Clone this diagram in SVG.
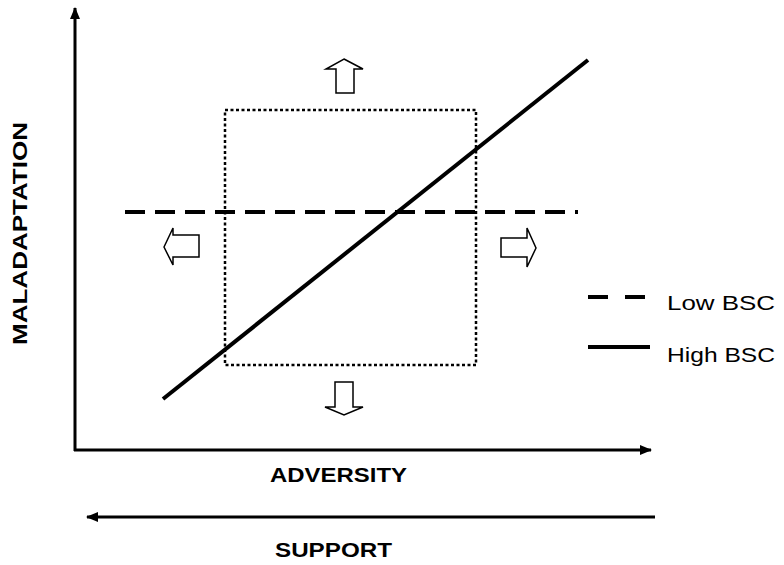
<svg xmlns="http://www.w3.org/2000/svg" width="784" height="565" viewBox="0 0 784 565">
<style>
.ax{stroke:#000;stroke-width:3;fill:none}
.blk{fill:#fff;stroke:#000;stroke-width:1.5;stroke-linejoin:miter}
.lbl{font-family:"Liberation Sans",Arial,sans-serif;font-weight:bold;font-size:21px;fill:#000}
.leg{font-family:"Liberation Sans",Arial,sans-serif;font-size:21px;fill:#000}
</style>
<defs>
<marker id="ah" viewBox="0 0 12 10" refX="11" refY="5" markerWidth="12" markerHeight="10" markerUnits="userSpaceOnUse" orient="auto">
<path d="M0,0 L12,5 L0,10 Z" fill="#000"/>
</marker>
</defs>
<g id="connectors">
<line class="ax" x1="75" y1="451" x2="75" y2="8" marker-end="url(#ah)"/>
<line class="ax" x1="74" y1="450" x2="651" y2="450" marker-end="url(#ah)"/>
<line class="ax" x1="655" y1="517" x2="87" y2="517" marker-end="url(#ah)"/>
</g>
<g id="box">
<rect x="225" y="110" width="251" height="255" fill="none" stroke="#000" stroke-width="2.5" stroke-dasharray="3,2.5"/>
</g>
<g id="low-bsc-line">
<line x1="125" y1="212" x2="578" y2="212" stroke="#000" stroke-width="4" stroke-dasharray="20,10"/>
</g>
<g id="high-bsc-line">
<line x1="163" y1="399" x2="588" y2="60" stroke="#000" stroke-width="4"/>
</g>
<g id="arrow-up">
<path class="blk" d="M344,59 L363,69 L354,69 L354,93 L336,93 L336,69 L326,69 Z"/>
</g>
<g id="arrow-down">
<path class="blk" d="M335,382 L353,382 L353,407 L363,407 L344,415 L325,407 L335,407 Z"/>
</g>
<g id="arrow-left">
<path class="blk" d="M164,247 L173,228 L173,235 L199,235 L199,257 L173,257 L173,265 Z"/>
</g>
<g id="arrow-right">
<path class="blk" d="M501,238 L527,238 L527,228 L536,248 L527,267 L527,257 L501,257 Z"/>
</g>
<g id="legend">
<line x1="588" y1="297" x2="645" y2="297" stroke="#000" stroke-width="4" stroke-dasharray="20,17"/>
<text class="leg" x="667" y="310" textLength="108" lengthAdjust="spacingAndGlyphs">Low BSC</text>
<line x1="588" y1="347" x2="650" y2="347" stroke="#000" stroke-width="4"/>
<text class="leg" x="667" y="362" textLength="108" lengthAdjust="spacingAndGlyphs">High BSC</text>
</g>
<g id="labels">
<text class="lbl" transform="translate(27,345) rotate(-90)" textLength="223" lengthAdjust="spacingAndGlyphs">MALADAPTATION</text>
<text class="lbl" x="270" y="482" textLength="137" lengthAdjust="spacingAndGlyphs">ADVERSITY</text>
<text class="lbl" x="275" y="557" textLength="117" lengthAdjust="spacingAndGlyphs">SUPPORT</text>
</g>
</svg>
